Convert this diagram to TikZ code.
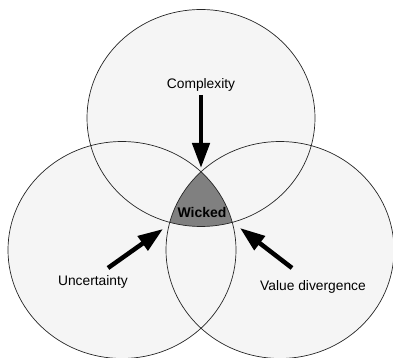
\documentclass[tikz,border=0pt]{standalone}
\usepackage{fontspec}
\setmainfont{Liberation Sans}
\usetikzlibrary{arrows.meta,shapes.geometric}

\begin{document}
\begin{tikzpicture}
  [x=1pt, y=-1pt,
   ring/.style={ellipse, draw=black!85, line width=0.7pt, minimum width=228pt, minimum height=217pt, inner sep=0pt},
   tint/.style={fill=black!4},
   label/.style={font=\fontsize{13.8}{16}\selectfont, inner sep=1pt},
   push/.style={line width=4.5pt, -{Triangle[length=25pt, width=17pt]}}]

  \useasboundingbox (0,0) rectangle (393,358);

  % light fill of the three sets
  \foreach \c in {(201,118),(122,250),(280,250)}
    \fill[tint] \c ellipse [x radius=114, y radius=108.5];

  % shaded core where all three sets meet
  \begin{scope}
    \clip (201,118) ellipse [x radius=114, y radius=108.5];
    \clip (122,250) ellipse [x radius=114, y radius=108.5];
    \fill[black!50] (280,250) ellipse [x radius=114, y radius=108.5];
  \end{scope}

  \node[ring] (cpx) at (201,118) {};
  \node[ring] (unc) at (122,250) {};
  \node[ring] (val) at (280,250) {};

  \node[label] (lcpx) at (201,85) {Complexity};
  \node[label] (lunc) at (93,282) {Uncertainty};
  \node[label] (lval) at (313,287) {Value divergence};
  \node[font=\fontsize{14}{16}\selectfont\bfseries, inner sep=0pt] (wkd) at (202,212) {Wicked};

  \coordinate (c1) at (201,95);  \coordinate (c2) at (201,168);
  \coordinate (u1) at (108,268); \coordinate (u2) at (163,229);
  \coordinate (v1) at (292,268); \coordinate (v2) at (240,228);

  \foreach \from/\to in {c1/c2,u1/u2,v1/v2}
    \draw[push] (\from) -- (\to);
\end{tikzpicture}
\end{document}
